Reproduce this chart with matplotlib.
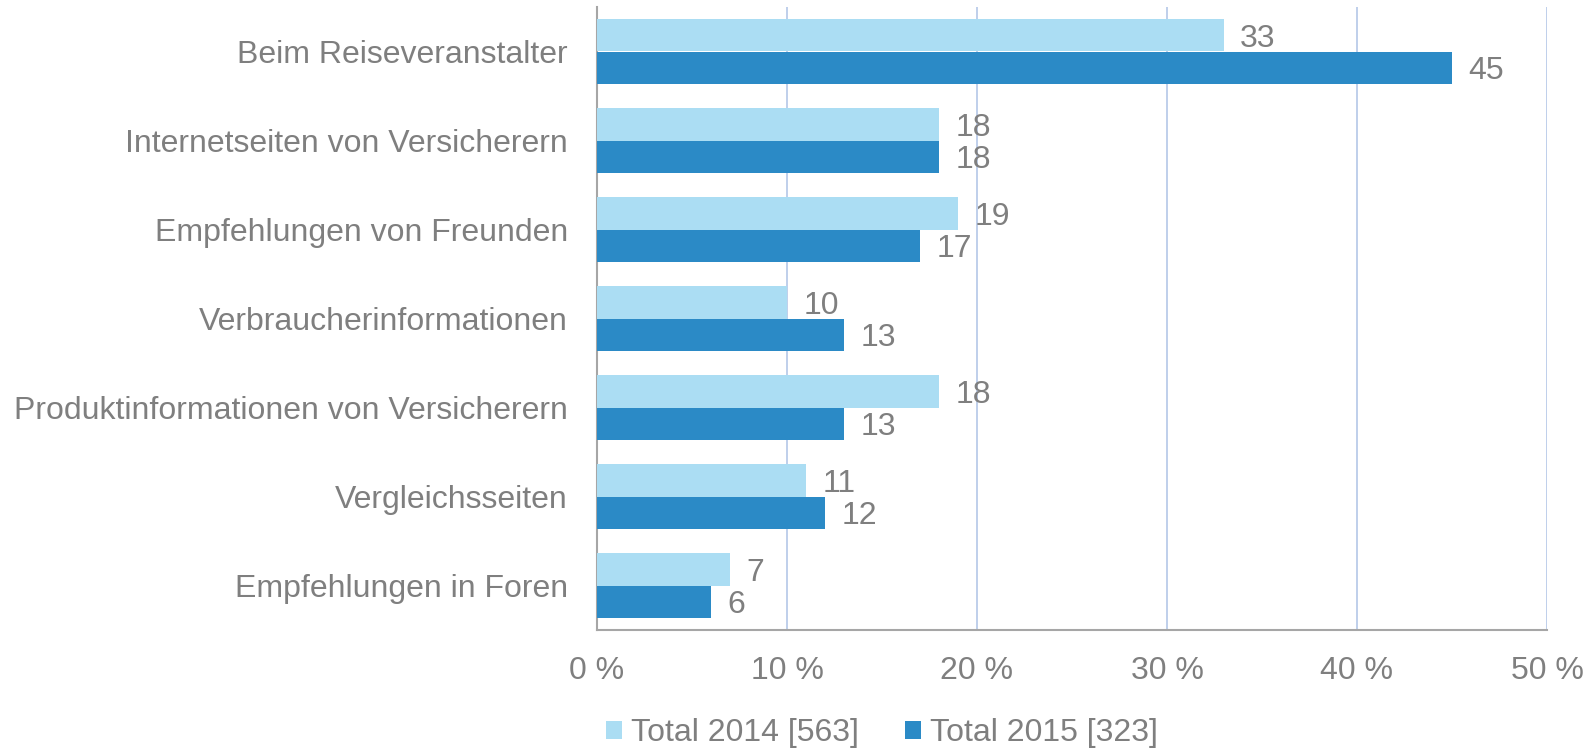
import matplotlib
matplotlib.use("Agg")
import matplotlib.pyplot as plt
import numpy as np

categories = ["Beim Reiseveranstalter", "Internetseiten von Versicherern", "Empfehlungen von Freunden",
              "Verbraucherinformationen", "Produktinformationen von Versicherern", "Vergleichsseiten",
              "Empfehlungen in Foren"]
vals_2014 = [33, 18, 19, 10, 18, 11, 7]
vals_2015 = [45, 18, 17, 13, 13, 12, 6]
series_names = ["Total 2014 [563]", "Total 2015 [323]"]
xticks = [0, 10, 20, 30, 40, 50]

plt.rcParams['font.family'] = ['Liberation Sans', 'DejaVu Sans']
grey = "#7F7F7F"
c_light = "#ABDDF3"
c_dark = "#2B8AC6"
fs = 23

W, H = 1595, 749
fig = plt.figure(figsize=(W/100, H/100), dpi=100)
ax = fig.add_axes([597/W, 1 - 630/H, (1547-597)/W, (630-7)/H])

n = len(categories)
y = np.arange(n)
bh = 0.365
ax.barh(y - bh/2, vals_2014, height=bh, color=c_light, label=series_names[0], zorder=3)
ax.barh(y + bh/2, vals_2015, height=bh, color=c_dark, label=series_names[1], zorder=3)

for yi, v in zip(y, vals_2014):
    ax.text(v + 0.85, yi - bh/2, str(v), va="center_baseline", ha="left", fontsize=fs, color=grey)
for yi, v in zip(y, vals_2015):
    ax.text(v + 0.85, yi + bh/2, str(v), va="center_baseline", ha="left", fontsize=fs, color=grey)

ax.set_ylim(n - 0.5, -0.5)
ax.set_xlim(0, 50)
ax.set_yticks(y)
ax.set_yticklabels(categories, fontsize=fs, color=grey)
ax.set_xticks(xticks)
ax.set_xticklabels([f"{t} %" for t in xticks], fontsize=fs, color=grey)
ax.tick_params(axis="both", length=0)
ax.tick_params(axis="y", pad=21)
ax.tick_params(axis="x", pad=19)
ax.grid(axis="x", color="#B4C7E7", linewidth=1.2, zorder=0)
for s in ["top", "right"]:
    ax.spines[s].set_visible(False)
ax.spines["left"].set_color("#A6A6A6")
ax.spines["left"].set_linewidth(1.5)
ax.spines["bottom"].set_color("#A6A6A6")
ax.spines["bottom"].set_linewidth(1.5)

leg = fig.legend(loc="center", bbox_to_anchor=(882/W, 1 - 733/H), ncol=2, frameon=False,
                 fontsize=fs, handlelength=0.5, handleheight=0.5, handletextpad=0.28,
                 columnspacing=1.47, labelcolor=grey)

fig.savefig("out.png", dpi=100)
